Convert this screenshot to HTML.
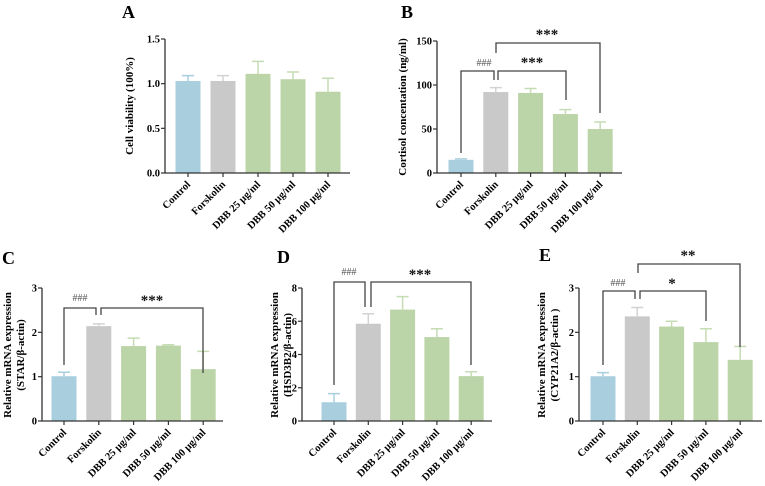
<!DOCTYPE html>
<html><head><meta charset="utf-8"><style>
body{margin:0;background:#fff}
svg{display:block;font-family:"Liberation Serif",serif;font-weight:bold}
</style></head><body>
<svg id="fig" width="765" height="486" viewBox="0 0 765 486"></svg>
<script>
const categories=["Control","Forskolin","DBB 25 μg/ml","DBB 50 μg/ml","DBB 100 μg/ml"];
const valuesA=[1.03,1.03,1.11,1.05,0.91];
const errorsA=[0.06,0.06,0.14,0.08,0.15];
const valuesB=[15,92,91,67,50];
const errorsB=[1,5,5,5,8];
const valuesC=[1.01,2.14,1.69,1.70,1.17];
const errorsC=[0.09,0.05,0.18,0.02,0.40];
const valuesD=[1.13,5.85,6.7,5.05,2.7];
const errorsD=[0.52,0.6,0.78,0.5,0.26];
const valuesE=[1.01,2.36,2.13,1.78,1.38];
const errorsE=[0.08,0.2,0.12,0.3,0.3];
const ticksA=["0.0","0.5","1.0","1.5"];
const ticksB=["0","50","100","150"];
const ticksC=["0","1","2","3"];
const ticksD=["0","2","4","6","8"];
const ticksE=["0","1","2","3"];
const NS="http://www.w3.org/2000/svg";
const svg=document.getElementById('fig');
const fills=["#a9cfdf","#c9c9c9","#bcd5a8","#bcd5a8","#bcd5a8"];
const errC=["#a9cfdf","#d3d3d3","#c6dcb4","#c6dcb4","#c6dcb4"];
function mk(tag,attrs,parent){const e=document.createElementNS(NS,tag);for(const k in attrs)e.setAttribute(k,attrs[k]);(parent||svg).appendChild(e);return e;}
function panel(p){
  const g=mk('g',{});
  
  
  const ymax=parseFloat(p.ticks[p.ticks.length-1]);
  const ys=v=>p.y0-(v/ymax)*(p.y0-p.yTop);
  const xs=i=>p.x1+i*p.step;
  const lt=mk('text',{x:p.lx,y:p.ly,'font-size':18},g);lt.textContent=p.id;
  
  
  p.vals.forEach((v,i)=>{
    const cx=xs(i);
    const r=mk('rect',{x:cx-12.5,y:ys(v),width:25,height:p.y0-ys(v),fill:fills[i]},g);
    
    
    const t=ys(v+p.errs[i]);
    const e=mk('path',{d:`M${cx} ${ys(v)}V${t}M${cx-6} ${t}H${cx+6}`,stroke:errC[i],'stroke-width':1.5,fill:'none'},g);
    
    
    mk('line',{x1:cx,x2:cx,y1:p.y0,y2:p.y0+4,stroke:'#333','stroke-width':1.2},g);
    const lb=mk('text',{x:0,y:0,'font-size':10.5,'text-anchor':'end',transform:`translate(${cx+3},${p.y0+12}) rotate(-45)`},g);
    lb.textContent=categories[i];
    
    
  });
  const ax=mk('path',{d:`M${p.ax} ${p.yTop}V${p.y0}H${p.xEnd}`,stroke:'#333','stroke-width':1.3,fill:'none'},g);
  
  
  p.ticks.forEach(t=>{
    const y=ys(parseFloat(t));
    mk('line',{x1:p.ax-4,x2:p.ax,y1:y,y2:y,stroke:'#333','stroke-width':1.2},g);
    const tl=mk('text',{x:p.ax-5,y:y+3.5,'font-size':10.5,'text-anchor':'end'},g);tl.textContent=t;
    
    
  });
  p.title.forEach((s,k)=>{
    const tt=mk('text',{x:0,y:0,'font-size':11,'text-anchor':'middle',transform:`translate(${p.tx+k*13},${p.ty}) rotate(-90)`},g);
    tt.textContent=s;
    
    
  });
  (p.br||[]).forEach(b=>{
    const bp=mk('path',{d:`M${b[0]} ${b[1]}V${b[2]}H${b[3]}V${b[4]}`,stroke:'#444','stroke-width':1.3,fill:'none'},g);
    
    
    const st=mk('text',{x:b[5],y:b[6],'font-size':b[7]==='###'?10:15,'text-anchor':'middle','font-weight':b[7]==='###'?'normal':'bold',fill:b[7]==='###'?'#555':'#111'},g);
    st.textContent=b[7];
    
    
  });
}
panel({id:'A',lx:122,ly:18,vals:valuesA,errs:errorsA,ticks:ticksA,y0:173,yTop:39,ax:165,xEnd:350,x1:188,step:35,title:['Cell viability (100%)'],tx:133,ty:106});
panel({id:'B',lx:401,ly:18,vals:valuesB,errs:errorsB,ticks:ticksB,y0:173,yTop:41,ax:437,xEnd:622,x1:461,step:34.8,title:['Cortisol concentation (ng/ml)'],tx:406,ty:107,
 br:[[461,153,71,494,80,484,66,'###'],[498,80,71,566,100,532,67,'***'],[496,53,43,600,113,547,39,'***']]});
panel({id:'C',lx:2,ly:264,vals:valuesC,errs:errorsC,ticks:ticksC,y0:421,yTop:288,ax:42,xEnd:223,x1:64,step:34.8,title:['Relative mRNA expression','(STAR/β-actin)'],tx:11,ty:355,
 br:[[64,365,308,96,315,80,301,'###'],[101,315,308,203,373,152,305,'***']]});
panel({id:'D',lx:277,ly:263,vals:valuesD,errs:errorsD,ticks:ticksD,y0:421,yTop:288,ax:302,xEnd:492,x1:334,step:34.3,title:['Relative mRNA expression','(HSD3B2/β-actin)'],tx:278,ty:355,
 br:[[334,385,282,365,307,349,275,'###'],[371,307,282,471,365,420,279,'***']]});
panel({id:'E',lx:539,ly:261,vals:valuesE,errs:errorsE,ticks:ticksE,y0:421,yTop:288,ax:579,xEnd:762,x1:603,step:34.3,title:['Relative mRNA expression','(CYP21A2/β-actin )'],tx:545,ty:355,
 br:[[603,365,291,635,299,618,286,'###'],[640,299,291,706,321,672,288,'*'],[638,273,264,740,347,688,260,'**']]});
</script>
</body></html>
